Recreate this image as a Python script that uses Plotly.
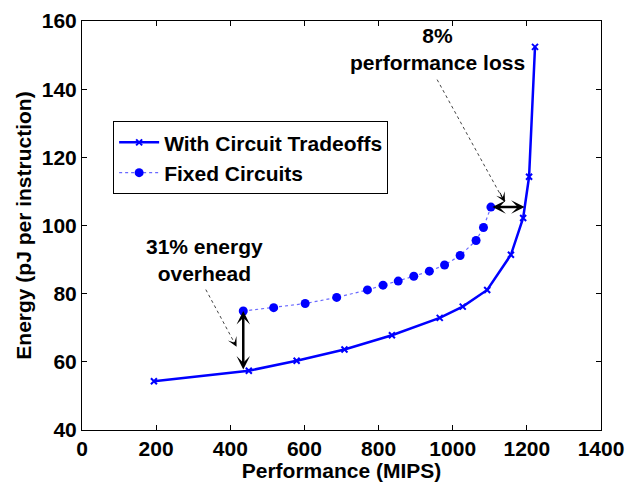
import plotly.graph_objects as go

# With Circuit Tradeoffs
trade_x = [194, 450, 579, 708, 836, 965, 1027, 1093, 1157, 1190, 1206, 1222]
trade_y = [54.3, 57.4, 60.3, 63.6, 67.8, 72.9, 76.2, 81.1, 91.4, 102.2, 114.3, 152.4]

# Fixed Circuits
fixed_x = [435, 517, 602, 687, 770, 812, 853, 895, 937, 978, 1020, 1063, 1083, 1103]
fixed_y = [74.9, 75.9, 77.1, 78.9, 81.1, 82.5, 83.7, 85.1, 86.6, 88.4, 91.2, 95.6, 99.4, 105.4]

x_ticks = [0, 200, 400, 600, 800, 1000, 1200, 1400]
y_ticks = [40, 60, 80, 100, 120, 140, 160]

FONT = "Liberation Sans, Arial, Helvetica, sans-serif"
FS = 21
BLUE = "#0000ff"

fig = go.Figure()
fig.add_trace(go.Scatter(
    x=trade_x, y=trade_y, mode="lines+markers", name="With Circuit Tradeoffs",
    line=dict(color=BLUE, width=2.5),
    marker=dict(symbol="x-thin", size=6, color=BLUE, line=dict(color=BLUE, width=2)),
))
fig.add_trace(go.Scatter(
    x=fixed_x, y=fixed_y, mode="lines+markers", name="Fixed Circuits",
    line=dict(color="#6a6aff", width=1.2, dash="dot"),
    marker=dict(symbol="circle", size=9, color=BLUE),
))

# dotted callout lines
fig.add_shape(type="line", xref="x", yref="y", x0=958, y0=142.8, x1=1136, y1=107.6,
              line=dict(color="#444444", width=1, dash="dot"))
fig.add_shape(type="line", xref="x", yref="y", x0=334, y0=81.2, x1=414, y1=65.0,
              line=dict(color="#444444", width=1, dash="dot"))

anns = []
# arrowheads on callouts
anns.append(dict(x=1141, y=106.9, ax=1125, ay=110.1, xref="x", yref="y", axref="x", ayref="y",
                 text="", showarrow=True, arrowhead=3, arrowsize=1.6, arrowwidth=1, arrowcolor="black"))
anns.append(dict(x=417, y=64.4, ax=408, ay=66.3, xref="x", yref="y", axref="x", ayref="y",
                 text="", showarrow=True, arrowhead=3, arrowsize=1.6, arrowwidth=1, arrowcolor="black"))
# double-headed arrows
anns.append(dict(x=fixed_x[0], y=fixed_y[0], ax=fixed_x[0], ay=57.3, xref="x", yref="y",
                 axref="x", ayref="y", text="", showarrow=True, arrowhead=3, startarrowhead=3,
                 arrowside="end+start", arrowsize=0.9, startarrowsize=0.9, arrowwidth=2.5, arrowcolor="black"))
anns.append(dict(x=1194, y=fixed_y[-1], ax=fixed_x[-1], ay=fixed_y[-1], xref="x", yref="y",
                 axref="x", ayref="y", text="", showarrow=True, arrowhead=3, startarrowhead=3,
                 arrowside="end+start", arrowsize=0.9, startarrowsize=0.9, arrowwidth=2.5, arrowcolor="black"))
# texts
anns.append(dict(x=960, y=144.0, xref="x", yref="y", text="8%<br>performance loss", showarrow=False,
                 yanchor="bottom", font=dict(family=FONT, size=FS, color="black", weight="bold")))
anns.append(dict(x=330, y=82.0, xref="x", yref="y", text="31% energy<br>overhead", showarrow=False,
                 yanchor="bottom", font=dict(family=FONT, size=FS, color="black", weight="bold")))

axis_common = dict(showline=True, linecolor="black", linewidth=1, mirror="allticks",
                   ticks="inside", ticklen=5, tickcolor="black", showgrid=False, zeroline=False,
                   automargin=False,
                   tickfont=dict(family=FONT, size=FS, color="black", weight="bold"))

fig.update_layout(
    width=628, height=482,
    margin=dict(l=82, r=27, t=21, b=52),
    paper_bgcolor="white", plot_bgcolor="white",
    annotations=anns,
    showlegend=True,
    legend=dict(x=0.06, y=0.755, xanchor="left", yanchor="top",
                bgcolor="white", bordercolor="black", borderwidth=1,
                font=dict(family=FONT, size=FS, color="black", weight="bold"),
                itemwidth=40, tracegroupgap=0),
    xaxis=dict(range=[0, 1400], tickvals=x_ticks,
               title=dict(text="Performance (MIPS)", standoff=0,
                          font=dict(family=FONT, size=FS, color="black", weight="bold")),
               **axis_common),
    yaxis=dict(range=[40, 160], tickvals=y_ticks,
               title=dict(text="Energy (pJ per instruction)", standoff=4,
                          font=dict(family=FONT, size=FS, color="black", weight="bold")),
               **axis_common),
)

fig.write_html("out.html")
